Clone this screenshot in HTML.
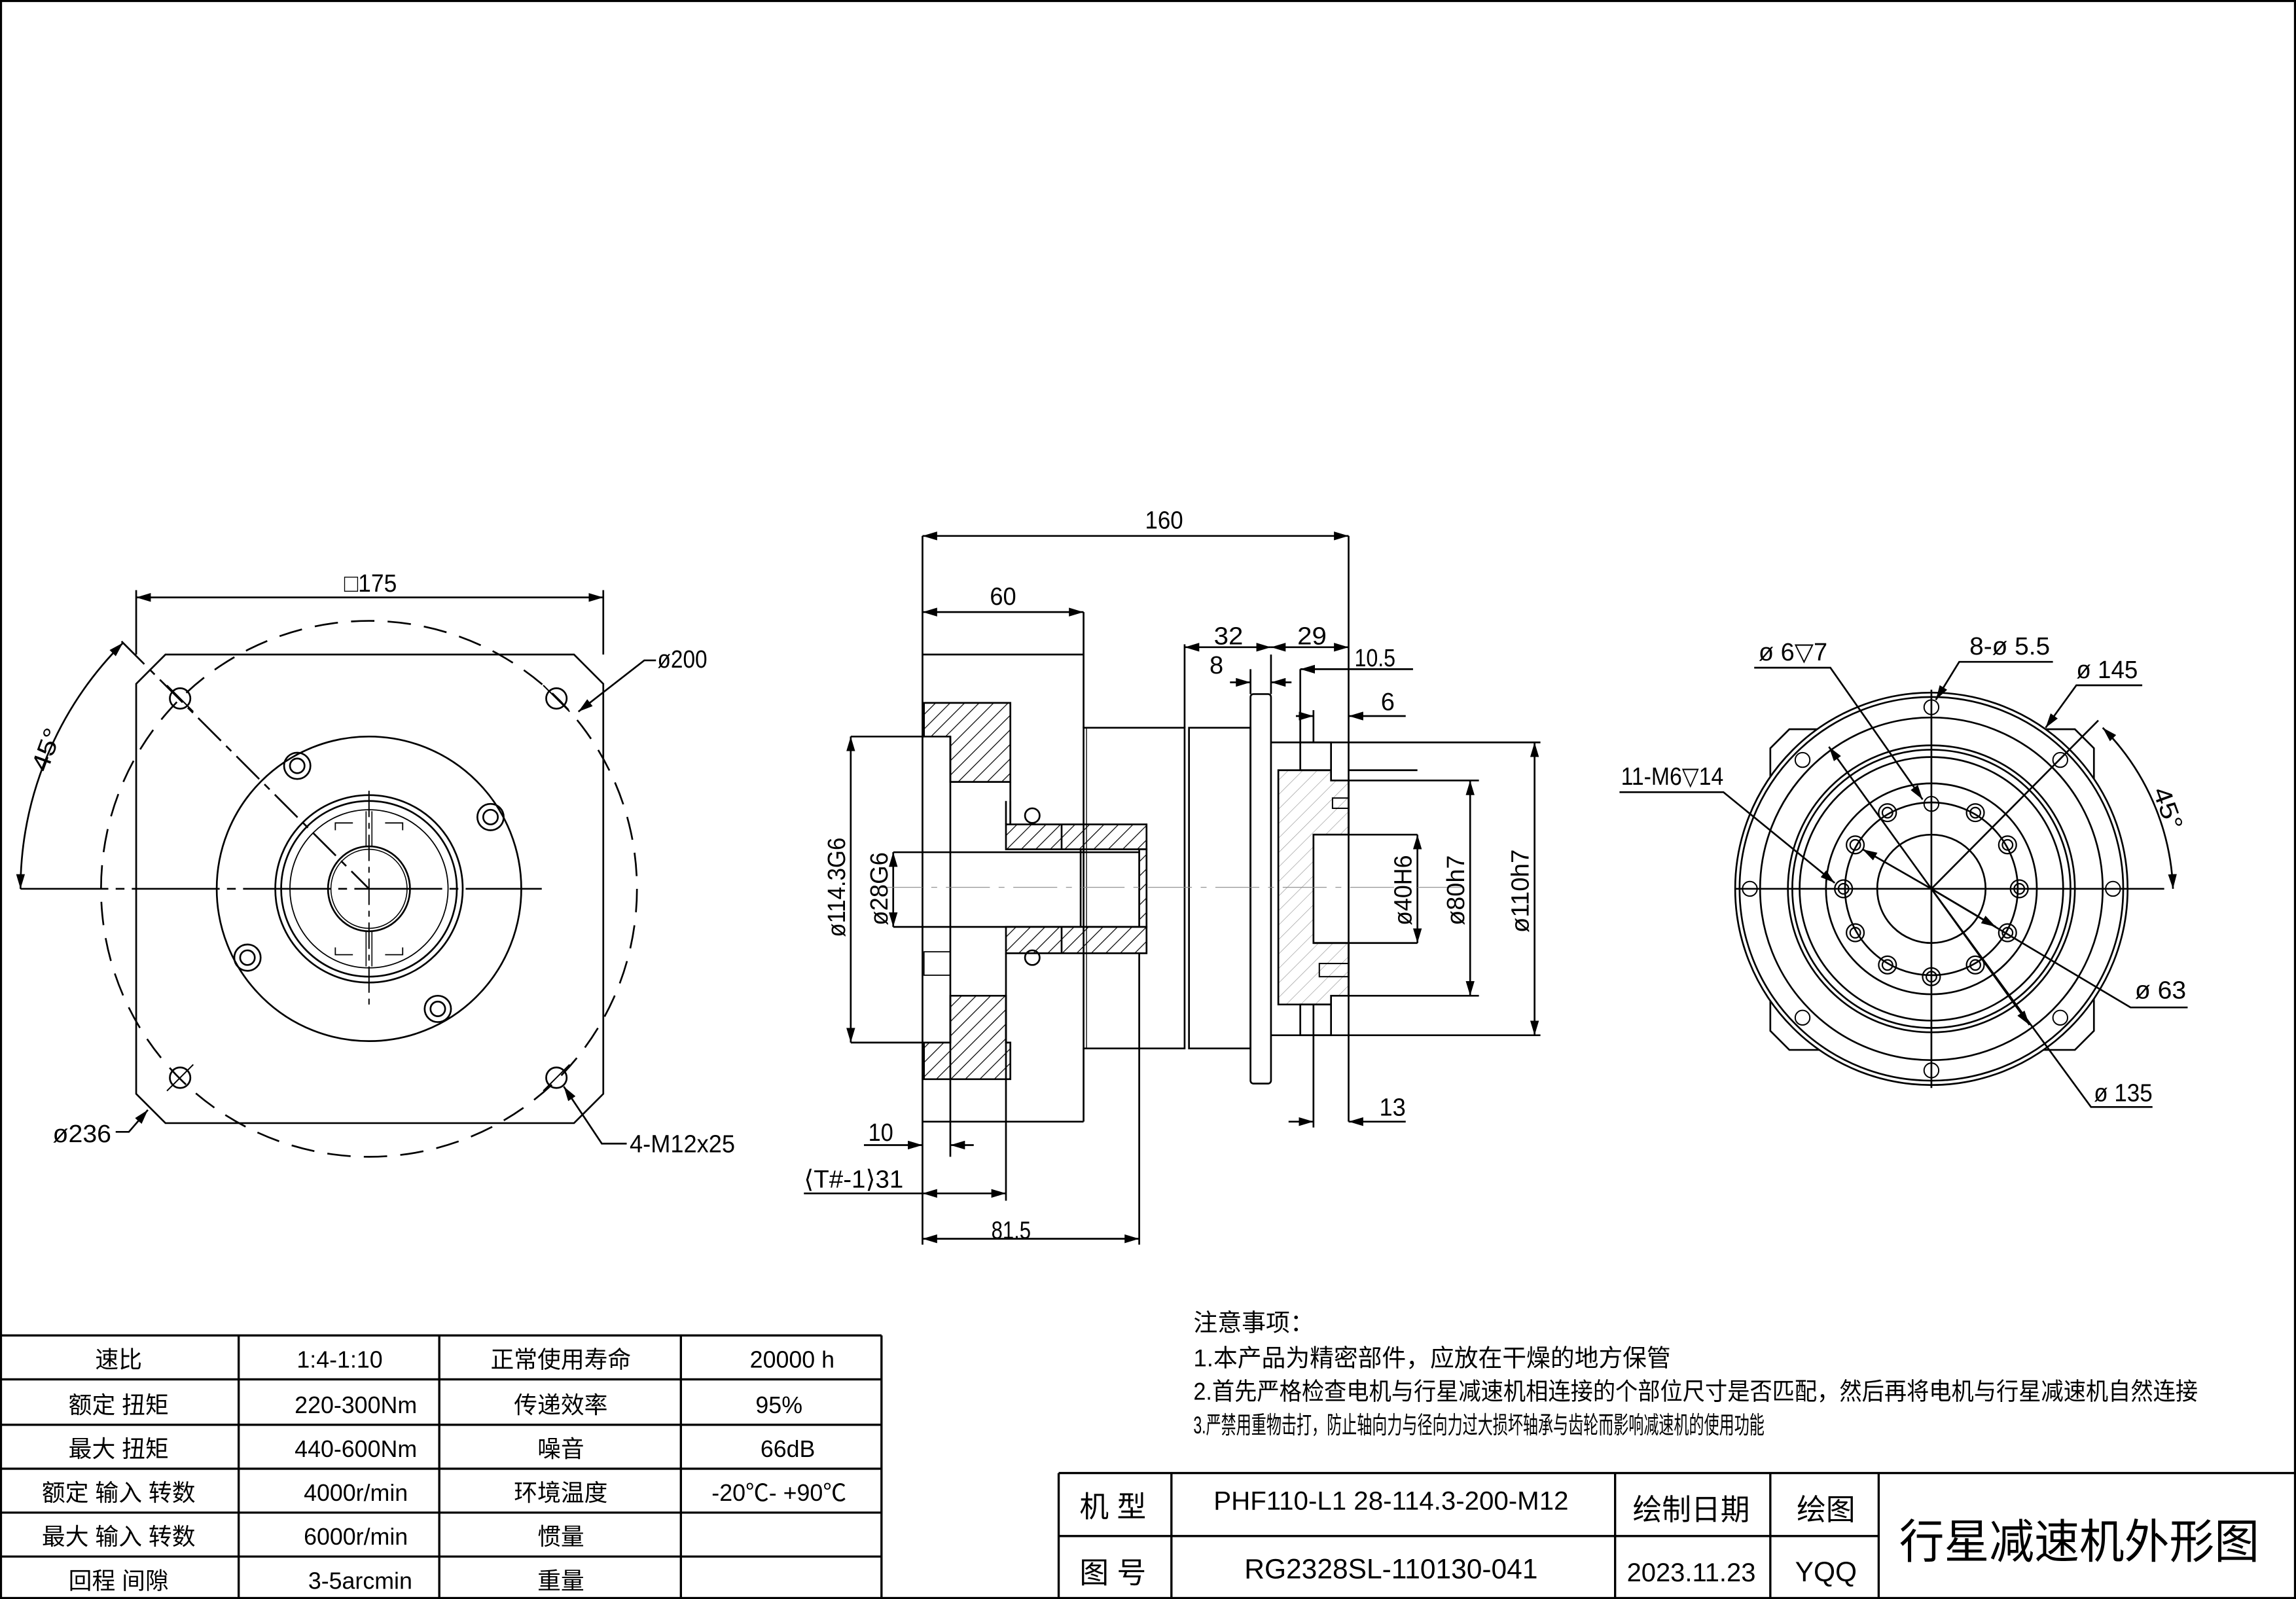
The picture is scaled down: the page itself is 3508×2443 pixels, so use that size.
<!DOCTYPE html>
<html><head><meta charset="utf-8">
<style>
html,body{margin:0;padding:0;background:#fff;}
svg{display:block;}
text{font-family:"Liberation Sans","Noto Sans CJK SC",sans-serif;fill:#000;}
.sym{font-family:"DejaVu Sans",sans-serif;}
</style></head>
<body>
<svg width="3508" height="2443" viewBox="0 0 1568 1092" preserveAspectRatio="none" xmlns="http://www.w3.org/2000/svg">
<defs>
<pattern id="h" patternUnits="userSpaceOnUse" width="7" height="7" patternTransform="rotate(45)">
<line x1="0" y1="0" x2="0" y2="7" stroke="#000" stroke-width="1.1"/>
</pattern>
<pattern id="h2" patternUnits="userSpaceOnUse" width="7" height="7" patternTransform="rotate(45)">
<line x1="0" y1="0" x2="0" y2="7" stroke="#999" stroke-width="0.6"/>
</pattern>
<marker id="a" viewBox="0 0 10 6" refX="10" refY="3" markerWidth="10" markerHeight="6" orient="auto-start-reverse" markerUnits="userSpaceOnUse">
<path d="M0,0 L10,3 L0,6 z" fill="#000"/>
</marker>
</defs>
<rect x="0" y="0" width="1568" height="1092" fill="#fff"/>
<rect x="0.7" y="0.7" width="1566.6" height="1090.6" fill="none" stroke="#000" stroke-width="1.4"/>

<g fill="none" stroke="#000" stroke-width="1.2">
<path d="M113,447 L392,447 L412,467 L412,747 L392,767 L113,767 L93,747 L93,467 Z"/>
<circle cx="252" cy="607" r="183" stroke-dasharray="16,9"/>
<circle cx="252" cy="607" r="104"/>
<circle cx="252" cy="607" r="64"/>
<circle cx="252" cy="607" r="60"/>
<circle cx="252" cy="607" r="54" stroke-width="0.8"/>
<ellipse cx="252" cy="607" rx="28" ry="29"/>
<ellipse cx="252" cy="607" rx="26" ry="27" stroke-width="0.7"/>
<path d="M229,567 L229,562 L241,562 M275,567 L275,562 L263,562 M229,647 L229,652 L241,652 M275,647 L275,652 L263,652" stroke-width="0.8"/>
<path d="M250,554 L250,578 M254,554 L254,578 M250,636 L250,660 M254,636 L254,660" stroke-width="0.7"/>
<circle cx="123" cy="477" r="7"/><circle cx="380" cy="477" r="7"/>
<circle cx="123" cy="736" r="7"/><circle cx="380" cy="736" r="7"/>
<path d="M114,468 L132,486 M371,468 L389,486 M114,745 L132,727 M371,745 L389,727" stroke-width="0.9"/>
<circle cx="203" cy="523" r="9"/><circle cx="203" cy="523" r="5"/>
<circle cx="335" cy="558" r="9"/><circle cx="335" cy="558" r="5"/>
<circle cx="169" cy="654" r="9"/><circle cx="169" cy="654" r="5"/>
<circle cx="299" cy="689" r="9"/><circle cx="299" cy="689" r="5"/>
<line x1="14" y1="607" x2="370" y2="607" stroke-dasharray="60,5,6,5"/>
<line x1="252" y1="540" x2="252" y2="690" stroke-dasharray="18,4,4,4" stroke-width="0.9"/>
<line x1="83" y1="438" x2="252" y2="607" stroke-dasharray="22,5,5,5"/>
<line x1="93" y1="447" x2="93" y2="403"/><line x1="412" y1="447" x2="412" y2="403"/>
<line x1="93" y1="408" x2="412" y2="408" marker-start="url(#a)" marker-end="url(#a)"/>
<path d="M84,439 A238,238 0 0 0 14,607" marker-start="url(#a)" marker-end="url(#a)"/>
<polyline points="448,451 440,451 395,486" marker-end="url(#a)"/>
<polyline points="79,773 88,773 101,758" marker-end="url(#a)"/>
<polyline points="428,781 411,781 385,742" marker-end="url(#a)"/>

<line x1="630" y1="366" x2="630" y2="850"/>
<line x1="921" y1="366" x2="921" y2="766"/>
<line x1="630" y1="366" x2="921" y2="366" marker-start="url(#a)" marker-end="url(#a)"/>
<line x1="740" y1="418" x2="740" y2="497"/>
<line x1="630" y1="418" x2="740" y2="418" marker-start="url(#a)" marker-end="url(#a)"/>
<line x1="630" y1="447" x2="740" y2="447"/>
<line x1="630" y1="766" x2="740" y2="766"/>
<line x1="740" y1="716" x2="740" y2="766"/>
<rect x="740" y="497" width="69" height="219"/>
<line x1="742" y1="497" x2="742" y2="716" stroke-width="0.6"/>
<rect x="812" y="497" width="42" height="219"/>
<rect x="854" y="474" width="14" height="266" rx="2"/>
<line x1="868" y1="507" x2="921" y2="507"/>
<line x1="868" y1="707" x2="921" y2="707"/>
<rect x="888" y="507" width="21" height="19"/>
<rect x="888" y="686" width="21" height="21"/>
<path d="M873,526 L909,526 L909,533 L921,533 L921,570 L897,570 L897,644 L921,644 L921,680 L909,680 L909,686 L873,686 Z" fill="url(#h2)" stroke="#000"/>
<line x1="897" y1="570" x2="968" y2="570"/>
<line x1="897" y1="644" x2="968" y2="644"/>
<rect x="910" y="545" width="11" height="7" stroke-width="0.9"/>
<rect x="901" y="658" width="20" height="9" stroke-width="0.9"/>
<line x1="921" y1="526" x2="968" y2="526"/>
<line x1="921" y1="533" x2="1010" y2="533"/><line x1="921" y1="680" x2="1010" y2="680"/>
<line x1="921" y1="507" x2="1052" y2="507"/><line x1="921" y1="707" x2="1052" y2="707"/>
<line x1="968" y1="570" x2="968" y2="644" marker-start="url(#a)" marker-end="url(#a)"/>
<line x1="1004" y1="533" x2="1004" y2="680" marker-start="url(#a)" marker-end="url(#a)"/>
<line x1="1048" y1="507" x2="1048" y2="707" marker-start="url(#a)" marker-end="url(#a)"/>
<path d="M631,480 L690,480 L690,534 L649,534 L649,503 L631,503 Z" fill="url(#h)"/>
<path d="M649,680 L687,680 L687,712 L690,712 L690,737 L631,737 L631,712 L649,712 Z" fill="url(#h)"/>
<line x1="649" y1="503" x2="649" y2="790"/>
<line x1="690" y1="534" x2="690" y2="563"/>
<rect x="631" y="650" width="18" height="16" stroke-width="0.8"/>
<line x1="581" y1="503" x2="631" y2="503"/><line x1="581" y1="712" x2="631" y2="712"/>
<line x1="581" y1="503" x2="581" y2="712" marker-start="url(#a)" marker-end="url(#a)"/>
<rect x="687" y="563" width="96" height="17" fill="url(#h)"/>
<rect x="687" y="633" width="96" height="18" fill="url(#h)"/>
<rect x="778" y="580" width="5" height="53" fill="url(#h)"/>
<line x1="687" y1="547" x2="687" y2="563"/><line x1="690" y1="547" x2="690" y2="563"/>
<line x1="738" y1="580" x2="738" y2="633"/>
<line x1="725" y1="563" x2="725" y2="580"/><line x1="725" y1="633" x2="725" y2="651"/>
<circle cx="705" cy="557" r="5"/><circle cx="705" cy="654" r="5"/>
<line x1="610" y1="582" x2="778" y2="582"/><line x1="610" y1="633" x2="778" y2="633"/>
<line x1="610" y1="582" x2="610" y2="633" marker-start="url(#a)" marker-end="url(#a)"/>
<line x1="687" y1="651" x2="687" y2="820"/>
<line x1="778" y1="651" x2="778" y2="850"/>
<line x1="600" y1="606" x2="1000" y2="606" stroke-width="0.5" stroke="#888" stroke-dasharray="30,6,4,6"/>
<line x1="809" y1="440" x2="809" y2="497"/>
<line x1="868" y1="447" x2="868" y2="474"/>
<line x1="854" y1="457" x2="854" y2="474"/>
<line x1="888" y1="457" x2="888" y2="507"/>
<line x1="897" y1="485" x2="897" y2="507"/>
<line x1="897" y1="686" x2="897" y2="770"/>
<line x1="809" y1="442" x2="868" y2="442" marker-start="url(#a)" marker-end="url(#a)"/>
<line x1="868" y1="442" x2="921" y2="442" marker-start="url(#a)" marker-end="url(#a)"/>
<line x1="965" y1="457" x2="888" y2="457" marker-end="url(#a)"/>
<line x1="840" y1="466" x2="854" y2="466" marker-end="url(#a)"/>
<line x1="882" y1="466" x2="868" y2="466" marker-end="url(#a)"/>
<line x1="885" y1="489" x2="897" y2="489" marker-end="url(#a)"/>
<line x1="960" y1="489" x2="921" y2="489" marker-end="url(#a)"/>
<line x1="880" y1="766" x2="897" y2="766" marker-end="url(#a)"/>
<line x1="960" y1="766" x2="921" y2="766" marker-end="url(#a)"/>
<line x1="590" y1="782" x2="630" y2="782" marker-end="url(#a)"/>
<line x1="665" y1="782" x2="649" y2="782" marker-end="url(#a)"/>
<line x1="549" y1="815" x2="630" y2="815"/>
<line x1="630" y1="815" x2="687" y2="815" marker-start="url(#a)" marker-end="url(#a)"/>
<line x1="630" y1="846" x2="778" y2="846" marker-start="url(#a)" marker-end="url(#a)"/>

<path d="M1222,498 L1417,498 L1430,511 L1430,704 L1417,717 L1222,717 L1209,704 L1209,511 Z"/>
<circle cx="1319" cy="607" r="134" fill="#fff"/>
<circle cx="1319" cy="607" r="131"/>
<circle cx="1319" cy="607" r="117"/>
<circle cx="1319" cy="607" r="98"/>
<circle cx="1319" cy="607" r="95"/>
<circle cx="1319" cy="607" r="90"/>
<circle cx="1319" cy="607" r="72"/>
<circle cx="1319" cy="607" r="59"/>
<circle cx="1319" cy="607" r="37"/>
<g stroke-width="0.9">
<circle cx="1443" cy="607" r="5"/><circle cx="1195" cy="607" r="5"/>
<circle cx="1319" cy="483" r="5"/><circle cx="1319" cy="731" r="5"/>
<circle cx="1407" cy="519" r="5"/><circle cx="1231" cy="519" r="5"/>
<circle cx="1407" cy="695" r="5"/><circle cx="1231" cy="695" r="5"/>
<circle cx="1319" cy="549" r="5"/>
</g>
<g stroke-width="1">
<circle cx="1379" cy="607" r="6"/><circle cx="1379" cy="607" r="3.5"/>
<circle cx="1259" cy="607" r="6"/><circle cx="1259" cy="607" r="3.5"/>
<circle cx="1371" cy="577" r="6"/><circle cx="1371" cy="577" r="3.5"/>
<circle cx="1349" cy="555" r="6"/><circle cx="1349" cy="555" r="3.5"/>
<circle cx="1289" cy="555" r="6"/><circle cx="1289" cy="555" r="3.5"/>
<circle cx="1267" cy="577" r="6"/><circle cx="1267" cy="577" r="3.5"/>
<circle cx="1371" cy="637" r="6"/><circle cx="1371" cy="637" r="3.5"/>
<circle cx="1349" cy="659" r="6"/><circle cx="1349" cy="659" r="3.5"/>
<circle cx="1319" cy="667" r="6"/><circle cx="1319" cy="667" r="3.5"/>
<circle cx="1289" cy="659" r="6"/><circle cx="1289" cy="659" r="3.5"/>
<circle cx="1267" cy="637" r="6"/><circle cx="1267" cy="637" r="3.5"/>
</g>
<line x1="1185" y1="607" x2="1478" y2="607"/>
<line x1="1319" y1="471" x2="1319" y2="743"/>
<line x1="1319" y1="607" x2="1433" y2="492"/>
<path d="M1436,497 A165,165 0 0 1 1484,607" marker-start="url(#a)" marker-end="url(#a)"/>
<polyline points="1198,456 1250,456 1313,546" marker-end="url(#a)"/>
<polyline points="1402,452 1338,452 1322,478" marker-end="url(#a)"/>
<polyline points="1463,468 1418,468 1397,497" marker-end="url(#a)"/>
<polyline points="1106,541 1177,541 1253,603" marker-end="url(#a)"/>
<polyline points="1494,688 1455,688 1319,607"/>
<line x1="1319" y1="607" x2="1272" y2="580" marker-end="url(#a)"/>
<line x1="1319" y1="607" x2="1363" y2="633" marker-end="url(#a)"/>
<polyline points="1470,756 1428,756 1319,607"/>
<line x1="1319" y1="607" x2="1249" y2="510" marker-end="url(#a)"/>
<line x1="1319" y1="607" x2="1386" y2="700" marker-end="url(#a)"/>

<g stroke-width="1.5">
<line x1="0" y1="912" x2="602" y2="912"/>
<line x1="0" y1="942" x2="602" y2="942"/>
<line x1="0" y1="973" x2="602" y2="973"/>
<line x1="0" y1="1003" x2="602" y2="1003"/>
<line x1="0" y1="1033" x2="602" y2="1033"/>
<line x1="0" y1="1063" x2="602" y2="1063"/>
<line x1="163" y1="912" x2="163" y2="1092"/>
<line x1="300" y1="912" x2="300" y2="1092"/>
<line x1="465" y1="912" x2="465" y2="1092"/>
<line x1="602" y1="912" x2="602" y2="1092"/>
</g>
<g stroke-width="1.5">
<line x1="723" y1="1006" x2="1568" y2="1006"/>
<line x1="723" y1="1049" x2="1283" y2="1049"/>
<line x1="723" y1="1006" x2="723" y2="1092"/>
<line x1="800" y1="1006" x2="800" y2="1092"/>
<line x1="1103" y1="1006" x2="1103" y2="1092"/>
<line x1="1209" y1="1006" x2="1209" y2="1092"/>
<line x1="1283" y1="1006" x2="1283" y2="1092"/>
</g>
</g>

<g font-size="17">
<text x="235" y="404" textLength="36" lengthAdjust="spacingAndGlyphs">□175</text>
<text x="449" y="456" textLength="34" lengthAdjust="spacingAndGlyphs">ø200</text>
<text x="36" y="780" textLength="40" lengthAdjust="spacingAndGlyphs">ø236</text>
<text x="430" y="787" textLength="72" lengthAdjust="spacingAndGlyphs">4-M12x25</text>
<text transform="translate(32,528) rotate(-70)" textLength="30" lengthAdjust="spacingAndGlyphs">45°</text>
<text x="782" y="361" textLength="26" lengthAdjust="spacingAndGlyphs">160</text>
<text x="676" y="413" textLength="18" lengthAdjust="spacingAndGlyphs">60</text>
<text x="829" y="440" textLength="20" lengthAdjust="spacingAndGlyphs">32</text>
<text x="886" y="440" textLength="20" lengthAdjust="spacingAndGlyphs">29</text>
<text x="925" y="455" textLength="28" lengthAdjust="spacingAndGlyphs">10.5</text>
<text x="826" y="460">8</text>
<text x="943" y="485">6</text>
<text x="942" y="762" textLength="18" lengthAdjust="spacingAndGlyphs">13</text>
<text x="593" y="779" textLength="17" lengthAdjust="spacingAndGlyphs">10</text>
<text x="549" y="811" textLength="68" lengthAdjust="spacingAndGlyphs">⟨T#-1⟩31</text>
<text x="677" y="846" textLength="27" lengthAdjust="spacingAndGlyphs">81.5</text>
<text transform="translate(577,640) rotate(-90)" textLength="68" lengthAdjust="spacingAndGlyphs">ø114.3G6</text>
<text transform="translate(606,632) rotate(-90)" textLength="50" lengthAdjust="spacingAndGlyphs">ø28G6</text>
<text transform="translate(964,632) rotate(-90)" textLength="48" lengthAdjust="spacingAndGlyphs">ø40H6</text>
<text transform="translate(1000,632) rotate(-90)" textLength="48" lengthAdjust="spacingAndGlyphs">ø80h7</text>
<text transform="translate(1044,637) rotate(-90)" textLength="57" lengthAdjust="spacingAndGlyphs">ø110h7</text>
<text x="1201" y="451" textLength="47" lengthAdjust="spacingAndGlyphs">ø 6<tspan class="sym">▽</tspan>7</text>
<text x="1345" y="447" textLength="55" lengthAdjust="spacingAndGlyphs">8-ø 5.5</text>
<text x="1418" y="463" textLength="42" lengthAdjust="spacingAndGlyphs">ø 145</text>
<text x="1107" y="536" textLength="70" lengthAdjust="spacingAndGlyphs">11-M6<tspan class="sym">▽</tspan>14</text>
<text x="1458" y="682" textLength="35" lengthAdjust="spacingAndGlyphs">ø 63</text>
<text x="1430" y="752" textLength="40" lengthAdjust="spacingAndGlyphs">ø 135</text>
<text transform="translate(1470,540) rotate(70)" textLength="30" lengthAdjust="spacingAndGlyphs">45°</text>
</g>

<g font-size="16" text-anchor="middle">
<text x="81" y="934">速比</text>
<text x="232" y="934">1:4-1:10</text>
<text x="383" y="934">正常使用寿命</text>
<text x="541" y="934">20000  h</text>
<text x="81" y="965">额定 扭矩</text>
<text x="243" y="965">220-300Nm</text>
<text x="383" y="965">传递效率</text>
<text x="532" y="965">95%</text>
<text x="81" y="995">最大 扭矩</text>
<text x="243" y="995">440-600Nm</text>
<text x="383" y="995">噪音</text>
<text x="538" y="995">66dB</text>
<text x="81" y="1025">额定 输入 转数</text>
<text x="243" y="1025">4000r/min</text>
<text x="383" y="1025">环境温度</text>
<text x="532" y="1025">-20℃- +90℃</text>
<text x="81" y="1055">最大 输入 转数</text>
<text x="243" y="1055">6000r/min</text>
<text x="383" y="1055">惯量</text>
<text x="81" y="1085">回程 间隙</text>
<text x="246" y="1085">3-5arcmin</text>
<text x="383" y="1085">重量</text>
</g>

<g font-size="16.5">
<text x="815" y="909">注意事项：</text>
<text x="815" y="933" textLength="326" lengthAdjust="spacingAndGlyphs">1.本产品为精密部件，应放在干燥的地方保管</text>
<text x="815" y="956" textLength="686" lengthAdjust="spacingAndGlyphs">2.首先严格检查电机与行星减速机相连接的个部位尺寸是否匹配，然后再将电机与行星减速机自然连接</text>
<text x="815" y="979" textLength="390" lengthAdjust="spacingAndGlyphs">3.严禁用重物击打，防止轴向力与径向力过大损坏轴承与齿轮而影响减速机的使用功能</text>
</g>

<g font-size="20" text-anchor="middle">
<text x="760" y="1036">机 型</text>
<text x="950" y="1031" font-size="18">PHF110-L1 28-114.3-200-M12</text>
<text x="1155" y="1038">绘制日期</text>
<text x="1247" y="1038">绘图</text>
<text x="760" y="1081">图 号</text>
<text x="950" y="1078" font-size="19">RG2328SL-110130-041</text>
<text x="1155" y="1080" font-size="18" textLength="88" lengthAdjust="spacingAndGlyphs">2023.11.23</text>
<text x="1247" y="1080" font-size="19">YQQ</text>
<text x="1420" y="1064" font-size="32" textLength="246" lengthAdjust="spacingAndGlyphs">行星减速机外形图</text>
</g>
</svg>
</body></html>
